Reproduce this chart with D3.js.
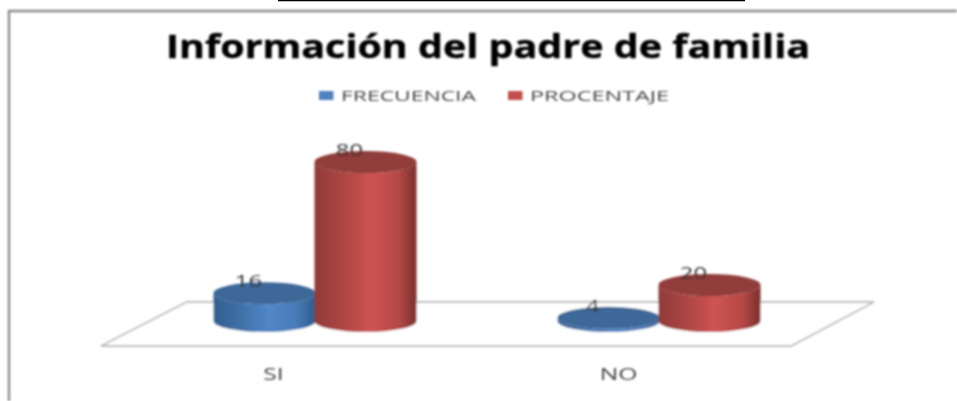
<!DOCTYPE html>
<html><head><meta charset="utf-8">
<script src="https://cdnjs.cloudflare.com/ajax/libs/d3/7.8.5/d3.min.js"></script>
<style>html,body{margin:0;padding:0;background:#fff}svg{display:block}</style>
</head><body><svg id="c" width="957" height="401"></svg>
<script>
const categories = ["SI", "NO"];
const seriesNames = ["FRECUENCIA", "PROCENTAJE"];
const frecuencia = [16, 4];
const procentaje = [80, 20];
const titleText = "Información del padre de familia";

const svg = d3.select("#c");
const defs = svg.append("defs");
defs.append("filter").attr("id","soft").attr("filterUnits","userSpaceOnUse")
  .attr("x",0).attr("y",0).attr("width",957).attr("height",401)
  .append("feGaussianBlur").attr("stdDeviation",0.8);
const grads = [
  {id:"g0", stops:["#31608f","#4071a9","#5287c9","#477ab6","#2f5a8a"], top:"#3d6797", swatch:"#4f81bd"},
  {id:"g1", stops:["#8f3a38","#ad4644","#cd5452","#b64946","#7a2f2d"], top:"#913c3a", swatch:"#c0504d"}
];
grads.forEach(g=>{
  const lg = defs.append("linearGradient").attr("id",g.id);
  [0,.28,.55,.82,1].forEach((o,i)=>lg.append("stop").attr("offset",o).attr("stop-color",g.stops[i]));
});

// stretches a text horizontally, as in the reference
const stretch = (sel, k) => sel.each(function(){
  this.setAttribute("textLength", this.getComputedTextLength()*k);
  this.setAttribute("lengthAdjust","spacingAndGlyphs");
});

// chart frame and the rule above it
svg.append("line").attr("x1",278).attr("x2",745).attr("y1",0.5).attr("y2",0.5).attr("stroke","#000").attr("stroke-width",1.6);
const root = svg.append("g").attr("filter","url(#soft)");
root.append("path").attr("d","M9,401V11H957").attr("fill","none").attr("stroke","#8a8a8a").attr("stroke-width",2.4);

// title
root.append("text").attr("x",488).attr("y",58).attr("text-anchor","middle")
  .attr("font-family","'Open Sans'").attr("font-weight",700).attr("font-size",32)
  .attr("stroke","#000").attr("stroke-width",0.4)
  .attr("textLength",644).attr("lengthAdjust","spacingAndGlyphs").attr("fill","#000").text(titleText);

// legend
const legendX = d3.scaleOrdinal().domain(seriesNames).range([319,508]);
const legendW = d3.scaleOrdinal().domain(seriesNames).range([135,139]);
const legend = root.append("g").selectAll("g").data(seriesNames).join("g")
  .attr("transform",d=>`translate(${legendX(d)},0)`);
legend.append("rect").attr("y",91).attr("width",14.5).attr("height",9)
  .attr("fill",(d,i)=>grads[i].swatch);
legend.append("text").attr("x",22).attr("y",101).attr("font-family","'Open Sans'").attr("font-size",15)
  .attr("textLength",d=>legendW(d)).attr("lengthAdjust","spacingAndGlyphs").attr("fill","#444").text(d=>d);

// floor
root.append("path").attr("d","M101,346H791L874,302H187Z").attr("fill","#fff")
  .attr("stroke","#bdbdbd").attr("stroke-width",1.8);

// category axis along the front edge of the floor
const xAxisScale = d3.scaleBand().domain(categories).range([101,791]);
const axisG = root.append("g").attr("transform","translate(0,346)")
  .call(d3.axisBottom(xAxisScale).tickSize(0).tickPadding(22));
axisG.select(".domain").remove();
axisG.selectAll("text").attr("font-family","'Open Sans'").attr("font-size",17).attr("fill","#444")
  .attr("text-anchor","middle").attr("dy","0.71em").call(stretch,1.45);

// cylinders
const x0 = d3.scaleBand().domain(categories).range([143,831]);
const x1 = d3.scaleBand().domain(seriesNames).range([-101,101]).paddingInner(0);
const y = d3.scaleLinear().domain([0,80]).range([326,162]);
const baseY = 321;
const rows = [];
seriesNames.forEach((s,si)=>{
  const vals = si===0 ? frecuencia : procentaje;
  categories.forEach((c,ci)=>rows.push({c,s,si,v:vals[ci]}));
});
const rx = 51, ry = 11;
const cx = d => x0(d.c)+x0.bandwidth()/2+x1(d.s)+x1.bandwidth()/2;
const bars = root.append("g").selectAll("g").data(rows).join("g");
bars.append("path")
  .attr("d",d=>{
    const l=cx(d)-rx, r=cx(d)+rx, t=y(d.v), b=baseY;
    return `M${l},${t}L${l},${b}A${rx},${ry} 0 0 0 ${r},${b}L${r},${t}A${rx},${ry} 0 0 1 ${l},${t}Z`;
  })
  .attr("fill",d=>`url(#g${d.si})`);
bars.append("ellipse").attr("cx",cx).attr("cy",d=>y(d.v)).attr("rx",rx).attr("ry",ry)
  .attr("fill",d=>grads[d.si].top);

// data labels
root.append("g").selectAll("text").data(rows).join("text")
  .attr("x",d=>cx(d)-16).attr("y",d=>y(d.v)-6).attr("text-anchor","middle")
  .attr("font-family","'Open Sans'").attr("font-size",17).attr("fill","#333")
  .text(d=>d.v).call(stretch,1.4);
</script></body></html>
